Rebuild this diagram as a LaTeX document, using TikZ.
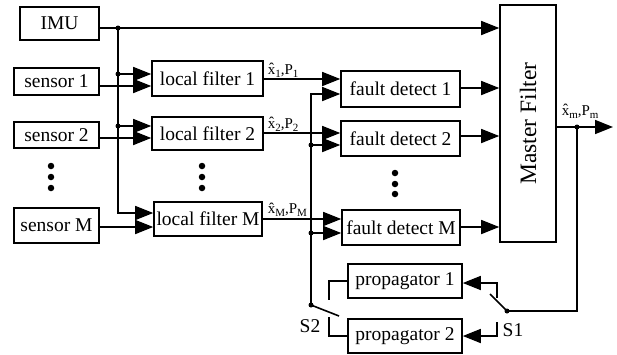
\documentclass[tikz,border=0pt]{standalone}
\usepackage{fontspec}
\setmainfont{Liberation Serif}
\usetikzlibrary{arrows.meta}
\newcommand{\lsub}[1]{\raisebox{-3.5pt}{\fontsize{11}{11}\selectfont #1}}
\begin{document}
\begin{tikzpicture}[x=1pt,y=-1pt, line width=1.6pt,
 box/.style={draw, rectangle, inner sep=0pt, font=\fontsize{19.5}{20}\selectfont},
 arr/.style={-{Triangle[length=18pt,width=14pt]}},
 lbl/.style={inner sep=0pt, anchor=base west, font=\fontsize{15}{16}\selectfont},
 slbl/.style={inner sep=0pt, font=\fontsize{19.5}{20}\selectfont},
 jdot/.style={circle, fill, inner sep=0pt, minimum size=5pt},
 vdot/.style={circle, fill, inner sep=0pt, minimum size=6.5pt}]
\useasboundingbox (0,0) rectangle (617,354);

% boxes
\node[box, minimum width=79pt, minimum height=33pt] (imu) at (59.5,23.5) {IMU};
\node[box, minimum width=85pt, minimum height=27pt] (s1) at (56.5,81.5) {sensor 1};
\node[box, minimum width=85pt, minimum height=26pt] (s2) at (56.5,135) {sensor 2};
\node[box, minimum width=85pt, minimum height=35pt] (sM) at (56.5,225.5) {sensor M};
\node[box, minimum width=111pt, minimum height=35pt] (lf1) at (207.5,78.5) {local filter 1};
\node[box, minimum width=111pt, minimum height=33pt] (lf2) at (207.5,133.5) {local filter 2};
\node[box, minimum width=108pt, minimum height=34pt] (lfM) at (208,219) {local filter M};
\node[box, minimum width=119pt, minimum height=36pt] (fd1) at (400.5,89) {fault detect 1};
\node[box, minimum width=119pt, minimum height=35pt] (fd2) at (400.5,138.5) {fault detect 2};
\node[box, minimum width=118pt, minimum height=35pt] (fdM) at (401,227.5) {fault detect M};
\node[box, minimum width=56pt, minimum height=237pt] (mf) at (528,123.5) {};
\node[inner sep=0pt, rotate=90, font=\fontsize{23.5}{24}\selectfont] (mft) at (mf.center) {Master Filter};
\node[box, minimum width=114pt, minimum height=34pt] (p1) at (405,281) {propagator 1};
\node[box, minimum width=114pt, minimum height=34pt] (p2) at (405,336) {propagator 2};

% vertical ellipses
\foreach \x in {51,202} {
  \node[vdot] at (\x,166) {}; \node[vdot] at (\x,177) {}; \node[vdot] at (\x,188) {};
}
\node[vdot] at (395,173) {}; \node[vdot] at (395,184) {}; \node[vdot] at (395,194) {};

% IMU bus
\coordinate (b0) at (118,28);
\coordinate (b1) at (118,74);
\coordinate (b2) at (118,126);
\draw[arr] ([yshift=-4.5pt]imu.east) -- (mf.west |- b0);
\draw[arr] (b0) -- (118,213) -- (lfM.west |- 0,213);
\draw[arr] (b1) -- (lf1.west |- b1);
\draw[arr] (b2) -- (lf2.west |- b2);
\node[jdot] at (b0) {}; \node[jdot] at (b1) {}; \node[jdot] at (b2) {};

% sensors to local filters
\draw[arr] (s1.east |- 0,86) -- (lf1.west |- 0,86);
\draw[arr] (s2.east |- 0,138) -- (lf2.west |- 0,138);
\draw[arr] (sM.east |- 0,227) -- (lfM.west |- 0,227);

% local filters to fault detect
\draw[arr] (lf1.east |- 0,79) -- (fd1.west |- 0,79);
\draw[arr] (lf2.east |- 0,133) -- (fd2.west |- 0,133);
\draw[arr] (lfM.east |- 0,219) -- (fdM.west |- 0,219);
\node[lbl] at (267,74) {\^{x}\lsub{1},P\lsub{1}};
\node[lbl] at (267,128) {\^{x}\lsub{2},P\lsub{2}};
\node[lbl] at (267,213) {\^{x}\lsub{M},P\lsub{M}};

% propagated estimate bus
\coordinate (s2p) at (311,305);
\coordinate (c2) at (311,145);
\coordinate (cM) at (311,233);
\draw[arr] (s2p) -- (311,94) -- (fd1.west |- 0,94);
\draw[arr] (c2) -- (fd2.west |- c2);
\draw[arr] (cM) -- (fdM.west |- cM);
\node[jdot] at (c2) {}; \node[jdot] at (cM) {};

% fault detect to master
\draw[arr] (fd1.east |- 0,88) -- (mf.west |- 0,88);
\draw[arr] (fd2.east |- 0,136) -- (mf.west |- 0,136);
\draw[arr] (fdM.east |- 0,227) -- (mf.west |- 0,227);

% master output
\coordinate (mo) at (577,127);
\coordinate (out) at (613,127);
\coordinate (s1p) at (507,311);
\draw[arr] (mf.east |- mo) -- (out);
\draw (mo) -- (577,311) -- (s1p);
\node[jdot] at (mo) {};
\node[lbl] at (561,115) {\^{x}\lsub{m},P\lsub{m}};

% switch S1
\draw (s1p) -- (490,294);
\node[jdot] at (s1p) {};
\draw[arr] (497,298) -- (497,283) -- (p1.east |- 0,283);
\draw[arr] (497,322) -- (497,336) -- (p2.east |- 0,336);
\node[slbl] (S1) at (513,330) {S1};

% switch S2
\draw (s2p) -- (339,316);
\node[jdot] at (s2p) {};
\draw (p1.west) -- (329,281) -- (329,300);
\draw (p2.west) -- (329,336) -- (329,317);
\node[slbl] (S2) at (310,326) {S2};
\end{tikzpicture}
\end{document}
